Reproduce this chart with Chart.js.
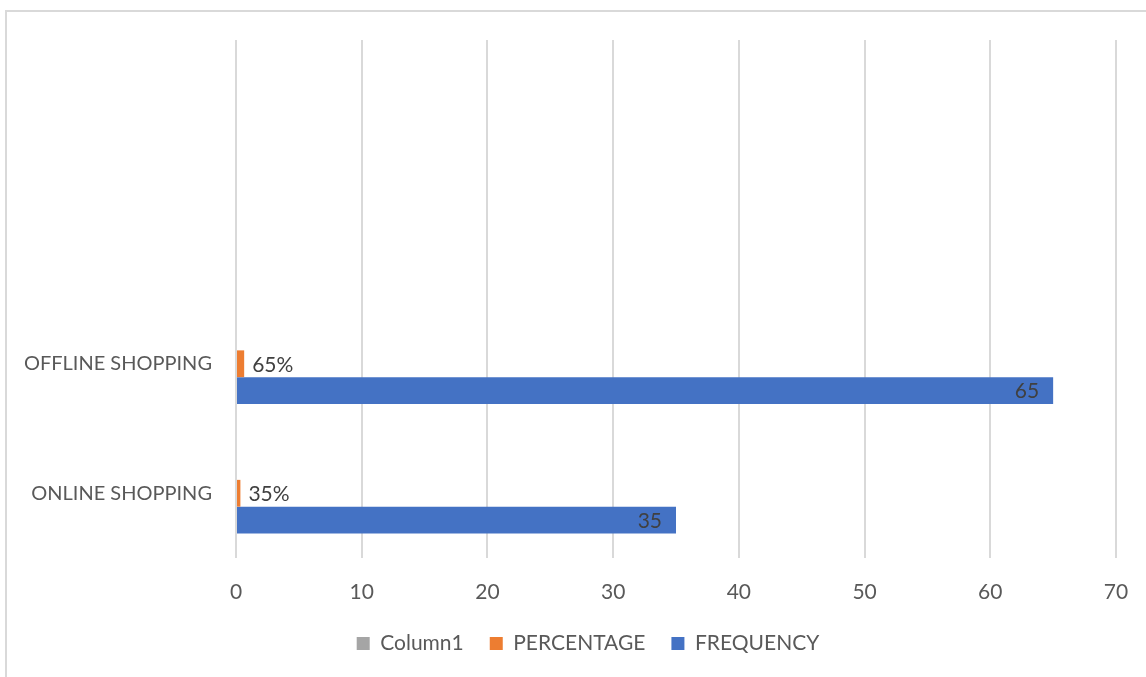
<!DOCTYPE html>
<html>
<head>
<meta charset="utf-8">
<script src="https://cdn.jsdelivr.net/npm/chart.js@4.4.0/dist/chart.umd.min.js"></script>
<style>
  html, body { margin: 0; padding: 0; background: #fff; }
  #wrap { position: relative; width: 1146px; height: 677px; overflow: hidden; }
  #frame {
    position: absolute; left: 5px; top: 10px; width: 1200px; height: 700px;
    border-left: 2px solid #d9d9d9; border-top: 2px solid #d9d9d9;
    pointer-events: none;
  }
  canvas { position: absolute; left: 0; top: 0; }
</style>
</head>
<body>
<div id="wrap">
  <div id="frame"></div>
  <canvas id="shoppingChart" width="1146" height="677"></canvas>
</div>
<script>
// categories run bottom to top, the two top rows are left blank
const categories = ["ONLINE SHOPPING", "OFFLINE SHOPPING", "", ""];
const column1 = [null, null, null, null];
const percentage = [0.35, 0.65, null, null];
const frequency = [35, 65, null, null];
const xTicks = [0, 10, 20, 30, 40, 50, 60, 70];

const FONT = "Lato, 'Open Sans', sans-serif";
const FONT_SIZE = 21;
const PAD_LEFT = 60;

// value labels: PERCENTAGE outside the bar end, FREQUENCY inside the bar end
const barLabels = {
  id: "barLabels",
  afterDatasetsDraw(chart) {
    const ctx = chart.ctx;
    ctx.save();
    ctx.font = FONT_SIZE + "px " + FONT;
    ctx.fillStyle = "#404040";
    ctx.textBaseline = "middle";
    chart.data.datasets.forEach((ds, i) => {
      const meta = chart.getDatasetMeta(i);
      meta.data.forEach((bar, j) => {
        const v = ds.data[j];
        if (v == null) return;
        if (ds.label === "PERCENTAGE") {
          ctx.textAlign = "left";
          ctx.fillText(Math.round(v * 100) + "%", bar.x + 8, bar.y + 1);
        } else if (ds.label === "FREQUENCY") {
          ctx.textAlign = "right";
          ctx.fillText(String(v), bar.x - 14, bar.y + 1);
        }
      });
    });
    ctx.restore();
  }
};

// category names are wider than the y axis box; let them spill into the left padding
const unclipYLabels = {
  id: "unclipYLabels",
  afterLayout(chart) {
    chart.scales.y.left = 0;
  }
};

const ctx = document.getElementById("shoppingChart");
new Chart(ctx, {
  type: "bar",
  data: {
    labels: categories,
    datasets: [
      { label: "Column1", data: column1, backgroundColor: "#a5a5a5" },
      { label: "PERCENTAGE", data: percentage, backgroundColor: "#ed7d31" },
      { label: "FREQUENCY", data: frequency, backgroundColor: "#4472c4" }
    ]
  },
  options: {
    indexAxis: "y",
    responsive: false,
    animation: false,
    layout: { padding: { left: PAD_LEFT, right: 30, top: 40, bottom: 13 } },
    datasets: {
      bar: { barPercentage: 1, categoryPercentage: 0.62, borderWidth: 0 }
    },
    scales: {
      x: {
        min: 0,
        max: 70,
        afterBuildTicks(scale) {
          scale.ticks = xTicks.map(v => ({ value: v }));
        },
        afterFit(scale) {
          scale.height = 49;
          // end labels fit inside the layout padding already
          scale.paddingLeft = 0;
          scale.paddingRight = 0;
        },
        grid: { color: "#d9d9d9", lineWidth: 2, drawTicks: false },
        border: { display: false },
        ticks: {
          padding: 22,
          maxRotation: 0,
          color: "#595959",
          font: { family: FONT, size: FONT_SIZE }
        }
      },
      y: {
        reverse: true,
        grid: { display: false, drawTicks: false },
        border: { display: false },
        afterFit(scale) { scale.width = 236 - PAD_LEFT; },
        ticks: {
          padding: 24,
          color: "#595959",
          font: { family: FONT, size: 20 }
        }
      }
    },
    plugins: {
      legend: {
        position: "bottom",
        labels: {
          boxWidth: 13,
          boxHeight: 13,
          padding: 26,
          color: "#595959",
          font: { family: FONT, size: FONT_SIZE }
        }
      },
      tooltip: { enabled: false }
    }
  },
  plugins: [barLabels, unclipYLabels]
});
</script>
</body>
</html>
